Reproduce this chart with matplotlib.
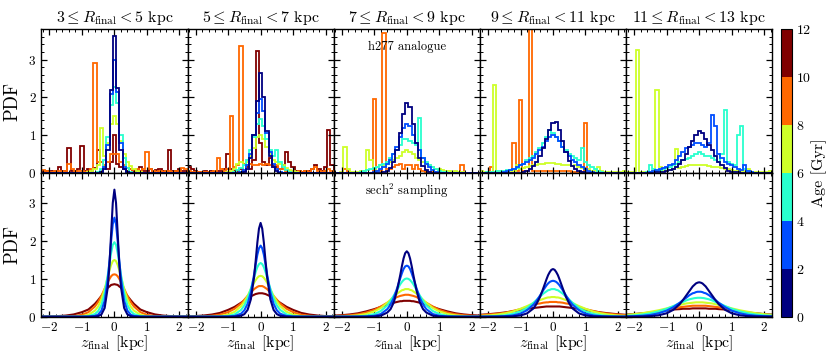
import numpy as np
import matplotlib.pyplot as plt
from matplotlib.colors import BoundaryNorm
from matplotlib.cm import ScalarMappable
from matplotlib.ticker import MultipleLocator

plt.rcParams['font.family'] = 'serif'
plt.rcParams['font.serif'] = ['cmr10', 'DejaVu Serif']
plt.rcParams['mathtext.fontset'] = 'cm'
plt.rcParams['axes.formatter.use_mathtext'] = True

#### radial bins and age bins ####
r_bins = [(3, 5), (5, 7), (7, 9), (9, 11), (11, 13)]
age_edges = [0, 2, 4, 6, 8, 10, 12]

#### top row: h277 histograms, bin centres -2.2 ... 2.2 (0.1 kpc) ####
z_edges_top = np.linspace(-2.25, 2.25, 46)

# order of each panel list: 0-2, 2-4, 4-6, 6-8, 8-10, 10-12 Gyr
top_r3 = [
    [0]*15 + [0, 0, 0, 0.02, 0.1, 0.6, 2.2, 3.62, 2.25, 0.6, 0.1, 0.02, 0, 0, 0] + [0]*15,
    [0]*15 + [0, 0, 0, 0.03, 0.15, 0.75, 2.1, 3.0, 2.15, 0.8, 0.15, 0.03, 0, 0, 0] + [0]*15,
    [0]*15 + [0, 0, 0.03, 0.1, 0.35, 0.95, 1.8, 2.28, 1.85, 1.0, 0.4, 0.12, 0.04, 0, 0] + [0]*15,
    [0, 0, 0, 0, 0, 0, 0, 0, 0, 0, 0, 0, 0, 0, 0.03,
     0.06, 0.1, 0.2, 1.18, 0.45, 0.8, 1.3, 1.52, 1.3, 0.85, 0.5, 0.3, 0.18, 0.1, 0.06,
     0.03, 0, 0, 0, 0, 0, 0, 0, 0, 0, 0, 0, 0, 0, 0],
    [0.08, 0.05, 0.03, 0.03, 0.05, 0.05, 0.03, 0.05, 0.25, 0.1, 0.03, 0.05, 0.05, 0.03, 0.05,
     0.1, 2.9, 0.3, 0.3, 0.2, 0.3, 0.5, 0.5, 0.5, 0.3, 0.2, 0.12, 0.1, 0.08, 0.1,
     0.05, 0.1, 0.55, 0.1, 0.05, 0.03, 0.05, 0.03, 0.05, 0.05, 0.03, 0.05, 0.05, 0.12, 0.1],
    [0.05, 0.05, 0.03, 0.05, 0.05, 0.15, 0.05, 0.05, 0.65, 0.05, 0.05, 0.1, 0.72, 0.05, 0.1,
     0.05, 0.12, 0.62, 0.3, 0.15, 0.1, 0.3, 1.0, 0.25, 0.15, 0.1, 0.05, 0.1, 0.05, 0.08,
     0.15, 0.05, 0.05, 0.1, 0.05, 0.08, 0.1, 0.05, 0.05, 0.62, 0.05, 0.05, 0.1, 0.05, 0.05],
]

top_r5 = [
    [0]*15 + [0, 0, 0.03, 0.1, 0.4, 1.0, 1.9, 2.64, 2.0, 1.1, 0.45, 0.15, 0.05, 0, 0] + [0]*15,
    [0]*15 + [0, 0.03, 0.08, 0.2, 0.5, 1.0, 1.6, 1.95, 1.65, 1.05, 0.55, 0.25, 0.1, 0.04, 0] + [0]*15,
    [0, 0, 0, 0, 0, 0, 0, 0, 0, 0, 0, 0, 0, 0, 0.04,
     0.08, 0.12, 0.2, 0.35, 0.6, 0.95, 1.3, 1.42, 1.25, 0.9, 0.6, 0.45, 0.62, 0.3, 0.15,
     0.08, 0.04, 0, 0, 0, 0, 0, 0, 0, 0, 0, 0, 0, 0, 0],
    [0, 0, 0, 0, 0, 0, 0, 0, 0, 0, 0, 0, 0.03, 0.05, 0.1,
     0.25, 0.3, 0.2, 0.3, 0.45, 0.65, 0.95, 1.01, 0.9, 0.7, 0.5, 0.35, 0.3, 0.25, 0.2,
     0.12, 0.08, 0.05, 0.03, 0, 0, 0, 0, 0, 0, 0, 0, 0, 0, 0],
    [0.05, 0.02, 0.02, 0.02, 0.03, 0.03, 0.02, 0.03, 0.05, 0.4, 0.1, 0.05, 0.1, 1.52, 0.15,
     0.2, 3.35, 0.25, 0.2, 0.25, 0.2, 0.2, 0.25, 0.2, 0.25, 0.2, 0.15, 0.2, 0.1, 0.1,
     0.05, 0.05, 0.03, 0.03, 0.05, 0.03, 0.05, 0.03, 0.1, 0.15, 0.05, 0.03, 0.05, 0.1, 0.05],
    [0.15, 0.1, 0.05, 0.03, 0.03, 0.05, 0.03, 0.05, 0.03, 0.05, 0.05, 0.1, 0.5, 0.1, 0.05,
     0.05, 0.1, 0.05, 0.15, 0.1, 0.35, 3.24, 0.8, 0.3, 0.2, 0.4, 0.2, 0.15, 0.1, 0.2,
     0.55, 0.3, 0.15, 0.05, 0.05, 0.03, 0.05, 0.05, 0.1, 0.2, 0.1, 0.05, 0.15, 1.14, 0.2],
]

top_r7 = [
    [0]*15 + [0.02, 0.05, 0.12, 0.3, 0.6, 1.05, 1.55, 1.84, 1.75, 1.3, 0.8, 0.4, 0.18, 0.07, 0.03] + [0]*15,
    [0, 0, 0, 0, 0, 0, 0, 0, 0, 0, 0, 0, 0.03, 0.05, 0.1,
     0.15, 0.25, 0.35, 0.5, 0.7, 0.95, 1.2, 1.3, 1.25, 1.0, 0.8, 0.6, 0.4, 0.25, 0.15,
     0.08, 0.04, 0, 0, 0, 0, 0, 0, 0, 0, 0, 0, 0, 0, 0],
    [0, 0, 0, 0, 0, 0, 0, 0, 0.03, 0.05, 0.08, 0.1, 0.13, 0.15, 0.2,
     0.25, 0.3, 0.4, 0.5, 0.6, 0.75, 0.9, 0.9, 0.85, 0.8, 0.75, 1.45, 0.4, 0.3, 0.2,
     0.15, 0.1, 0.05, 0.04, 0.03, 0, 0, 0, 0, 0, 0, 0, 0, 0, 0],
    [0, 0, 0.03, 0.7, 0.1, 0.03, 0.02, 0.03, 0.05, 0.05, 0.6, 0.35, 0.1, 0.15, 0.2,
     0.22, 0.25, 0.3, 0.35, 0.4, 0.45, 0.55, 0.6, 0.55, 0.5, 0.4, 0.35, 0.3, 0.25, 0.2,
     0.15, 0.1, 0.1, 0.07, 0.05, 0.05, 0.03, 0.05, 0.03, 0.02, 0, 0, 0, 0, 0],
    [0, 0, 0, 0.1, 0.03, 0, 0, 0, 0, 0, 0, 0, 1.97, 0.05, 0.05,
     3.7, 0.1, 0.1, 0.15, 0.2, 0.25, 0.1, 0.2, 0.2, 0.1, 0.2, 0.1, 0.05, 0.03, 0.03,
     0.02, 0.02, 0, 0, 0, 0, 0, 0, 0, 0.2, 0, 0, 0, 0, 0],
    None,
]

top_r9 = [
    [0, 0, 0, 0, 0, 0, 0, 0, 0, 0, 0, 0, 0, 0.02, 0.05,
     0.1, 0.18, 0.3, 0.45, 0.65, 0.9, 1.15, 1.32, 1.36, 1.15, 0.85, 0.55, 0.32, 0.18, 0.1,
     0.06, 0.03, 0, 0, 0, 0, 0, 0, 0, 0, 0, 0, 0, 0, 0],
    [0, 0, 0, 0, 0, 0, 0, 0.03, 0.05, 0.08, 0.1, 0.15, 0.2, 0.25, 0.3,
     0.35, 0.4, 0.5, 0.6, 0.7, 0.85, 0.95, 1.0, 0.95, 0.85, 0.7, 0.55, 0.45, 0.35, 0.3,
     0.2, 0.15, 0.1, 0.05, 0.03, 0, 0, 0, 0, 0, 0, 0, 0, 0, 0],
    [0, 0, 0.03, 0.03, 0.03, 0.05, 0.05, 0.05, 0.08, 0.08, 0.1, 0.12, 0.2, 0.25, 0.35,
     0.4, 0.45, 0.55, 0.65, 0.8, 0.95, 1.15, 1.05, 0.95, 0.85, 0.7, 0.6, 0.5, 0.45, 0.4,
     0.35, 0.65, 0.3, 0.2, 0.15, 0.1, 0.05, 0.03, 0, 0, 0, 0, 0, 0, 0],
    [0.05, 0.02, 0.02, 0.02, 2.34, 0.02, 0.02, 0.03, 0.03, 0.05, 0.05, 0.2, 0.1, 0.12, 0.15,
     0.18, 0.2, 0.22, 0.25, 0.25, 0.27, 0.27, 0.27, 0.25, 0.25, 0.22, 0.2, 0.2, 0.18, 0.2,
     0.15, 0.12, 0.1, 0.1, 0.05, 0.05, 0.15, 0.05, 0.03, 0.03, 0.02, 0.02, 0.02, 0.02, 0.05],
    [0, 0, 0, 0.15, 0, 0, 0, 0, 0, 0, 0.8, 0.05, 1.93, 0.05, 0.05,
     4.0, 0.05, 0.05, 0.05, 0.05, 0.05, 0.05, 0.05, 0.05, 0.05, 0.05, 0.05, 0.05, 0.03, 0.03,
     0.03, 0.03, 1.32, 0.03, 0.02, 0, 0, 0, 0, 0, 0, 0, 0, 0, 0],
    None,
]

top_r11 = [
    [0, 0, 0, 0, 0, 0, 0, 0, 0, 0.02, 0.03, 0.04, 0.05, 0.07, 0.1,
     0.15, 0.25, 0.35, 0.5, 0.7, 0.85, 1.0, 1.1, 1.05, 0.9, 0.75, 0.6, 0.45, 0.3, 0.2,
     0.12, 0.06, 0.03, 0.02, 0.02, 0.01, 0, 0, 0, 0, 0, 0, 0, 0, 0],
    [0, 0, 0, 0, 0, 0, 0, 0.03, 0.05, 0.08, 0.1, 0.12, 0.15, 0.2, 0.25,
     0.35, 0.45, 0.55, 0.65, 0.7, 0.75, 0.8, 0.8, 0.75, 0.7, 0.8, 1.54, 1.25, 0.5, 0.4,
     0.3, 0.25, 0.2, 0.15, 0.1, 0.08, 0.2, 0.05, 0.02, 0, 0, 0, 0, 0, 0],
    [0, 0, 0, 0, 0, 0, 0.03, 0.2, 0.1, 0.05, 0.08, 0.1, 0.12, 0.15, 0.2,
     0.25, 0.3, 0.35, 0.38, 0.4, 0.45, 0.5, 0.55, 0.5, 0.45, 0.45, 0.4, 0.35, 0.3, 0.5,
     1.67, 0.3, 0.25, 0.2, 1.0, 1.25, 0.1, 0.05, 0.03, 0, 0, 0, 0, 0, 0],
    [0.02, 0.02, 0.02, 3.25, 0.02, 0.02, 0.02, 0.03, 0.05, 2.19, 0.15, 0.05, 0.05, 0.08, 0.1,
     0.64, 0.12, 0.15, 0.18, 0.2, 0.2, 0.2, 0.2, 0.2, 0.2, 0.18, 0.17, 0.15, 0.15, 0.12,
     0.1, 0.1, 0.08, 0.05, 0.05, 0.05, 0.05, 0.1, 0.03, 0.02, 0.02, 0.02, 0.02, 0.02, 0.05],
    None,
    None,
]

#### bottom row: sech^2 sampling, symmetric, given for z >= 0 ####
z_half = [0, 0.05, 0.1, 0.15, 0.2, 0.3, 0.4, 0.5, 0.6, 0.8, 1.0, 1.25, 1.5, 1.75, 2.0, 2.25]

bot_r3 = [
    [3.36, 3.01, 2.21, 1.39, 0.80, 0.23, 0.06, 0.016, 0.004, 0, 0, 0, 0, 0, 0, 0],
    [2.62, 2.45, 2.01, 1.49, 1.02, 0.42, 0.16, 0.055, 0.02, 0.003, 0, 0, 0, 0, 0, 0],
    [1.97, 1.90, 1.69, 1.42, 1.12, 0.62, 0.31, 0.15, 0.07, 0.014, 0.003, 0, 0, 0, 0, 0],
    [1.50, 1.47, 1.37, 1.23, 1.07, 0.73, 0.46, 0.27, 0.16, 0.05, 0.015, 0.003, 0.001, 0, 0, 0],
    [1.12, 1.11, 1.07, 1.00, 0.92, 0.74, 0.55, 0.39, 0.27, 0.12, 0.05, 0.016, 0.005, 0.002, 0.001, 0],
    [0.86, 0.85, 0.84, 0.80, 0.77, 0.67, 0.55, 0.44, 0.34, 0.19, 0.12, 0.06, 0.03, 0.015, 0.007, 0.004],
]
bot_r5 = [
    [2.48, 2.33, 1.96, 1.49, 1.05, 0.46, 0.18, 0.068, 0.026, 0.003, 0, 0, 0, 0, 0, 0],
    [1.88, 1.81, 1.64, 1.39, 1.12, 0.64, 0.34, 0.17, 0.08, 0.018, 0.004, 0.001, 0, 0, 0, 0],
    [1.42, 1.39, 1.31, 1.19, 1.04, 0.74, 0.48, 0.30, 0.18, 0.06, 0.019, 0.005, 0.001, 0, 0, 0],
    [1.08, 1.07, 1.03, 0.97, 0.90, 0.73, 0.55, 0.40, 0.28, 0.13, 0.056, 0.019, 0.007, 0.002, 0.001, 0],
    [0.81, 0.81, 0.79, 0.76, 0.73, 0.64, 0.55, 0.45, 0.35, 0.21, 0.12, 0.054, 0.025, 0.011, 0.005, 0.002],
    [0.62, 0.62, 0.61, 0.60, 0.58, 0.54, 0.49, 0.43, 0.37, 0.26, 0.18, 0.10, 0.057, 0.032, 0.017, 0.009],
]
bot_r7 = [
    [1.73, 1.68, 1.54, 1.34, 1.11, 0.69, 0.38, 0.20, 0.11, 0.027, 0.007, 0.001, 0, 0, 0, 0],
    [1.35, 1.33, 1.26, 1.15, 1.02, 0.75, 0.50, 0.32, 0.20, 0.07, 0.024, 0.006, 0.002, 0, 0, 0],
    [1.01, 1.00, 0.97, 0.92, 0.86, 0.71, 0.56, 0.42, 0.30, 0.15, 0.069, 0.025, 0.009, 0.003, 0.001, 0],
    [0.73, 0.73, 0.71, 0.70, 0.67, 0.61, 0.53, 0.45, 0.37, 0.23, 0.14, 0.072, 0.036, 0.018, 0.008, 0.004],
    [0.58, 0.58, 0.57, 0.56, 0.55, 0.52, 0.47, 0.42, 0.37, 0.27, 0.18, 0.11, 0.065, 0.04, 0.025, 0.015],
    [0.42, 0.42, 0.42, 0.41, 0.41, 0.39, 0.37, 0.35, 0.32, 0.26, 0.20, 0.14, 0.09, 0.06, 0.04, 0.03],
]
bot_r9 = [
    [1.26, 1.24, 1.18, 1.10, 0.99, 0.75, 0.52, 0.35, 0.22, 0.087, 0.033, 0.009, 0.003, 0.001, 0, 0],
    [0.95, 0.94, 0.92, 0.88, 0.83, 0.70, 0.56, 0.43, 0.32, 0.17, 0.082, 0.032, 0.013, 0.005, 0.002, 0.001],
    [0.73, 0.73, 0.71, 0.70, 0.67, 0.61, 0.53, 0.45, 0.37, 0.23, 0.14, 0.072, 0.036, 0.018, 0.008, 0.004],
    [0.52, 0.52, 0.51, 0.51, 0.50, 0.47, 0.44, 0.40, 0.36, 0.28, 0.21, 0.13, 0.084, 0.052, 0.032, 0.019],
    [0.39, 0.39, 0.39, 0.38, 0.38, 0.37, 0.35, 0.34, 0.32, 0.26, 0.20, 0.15, 0.10, 0.075, 0.055, 0.04],
    [0.27, 0.27, 0.27, 0.27, 0.27, 0.26, 0.25, 0.24, 0.23, 0.21, 0.18, 0.14, 0.11, 0.085, 0.065, 0.05],
]
bot_r11 = [
    [0.91, 0.90, 0.88, 0.84, 0.80, 0.68, 0.56, 0.44, 0.33, 0.18, 0.091, 0.037, 0.015, 0.006, 0.002, 0.001],
    [0.66, 0.66, 0.65, 0.63, 0.62, 0.57, 0.50, 0.44, 0.37, 0.25, 0.16, 0.09, 0.048, 0.026, 0.014, 0.007],
    [0.50, 0.50, 0.495, 0.49, 0.48, 0.46, 0.43, 0.39, 0.36, 0.28, 0.21, 0.14, 0.09, 0.057, 0.035, 0.022],
    [0.38, 0.38, 0.38, 0.375, 0.37, 0.36, 0.35, 0.33, 0.31, 0.27, 0.22, 0.17, 0.13, 0.093, 0.066, 0.047],
    [0.29, 0.29, 0.29, 0.29, 0.29, 0.28, 0.27, 0.26, 0.25, 0.22, 0.18, 0.14, 0.10, 0.075, 0.055, 0.04],
    [0.22, 0.22, 0.22, 0.22, 0.22, 0.21, 0.21, 0.21, 0.20, 0.19, 0.17, 0.14, 0.11, 0.09, 0.07, 0.055],
]

top_rows = [top_r3, top_r5, top_r7, top_r9, top_r11]
bot_rows = [bot_r3, bot_r5, bot_r7, bot_r9, bot_r11]

cmap = plt.get_cmap('jet', 6)
norm = BoundaryNorm(age_edges, cmap.N)
colors = [cmap(i) for i in range(6)]

zh = np.array(z_half)
z_full = np.concatenate([-zh[::-1], zh[1:]])

fig = plt.figure(figsize=(8.3, 3.56), dpi=100)

left, pw = 41.3/830, 146.2/830
bottom, ph = 0.1104, 0.4036

def style(ax, col, row):
    ax.set_xlim(-2.25, 2.25)
    ax.set_ylim(0, 3.8)
    ax.xaxis.set_major_locator(MultipleLocator(1))
    ax.xaxis.set_minor_locator(MultipleLocator(0.2))
    ax.yaxis.set_major_locator(MultipleLocator(1))
    ax.yaxis.set_minor_locator(MultipleLocator(0.2))
    ax.tick_params(which='both', direction='in', top=True, right=True, labelsize=9.5)
    ax.tick_params(which='major', length=4, width=0.9)
    ax.tick_params(which='minor', length=2, width=0.7)
    ax.tick_params(axis='x', pad=3)
    for s in ax.spines.values():
        s.set_linewidth(1.0)
    if col > 0:
        ax.tick_params(labelleft=False)
    else:
        ax.set_ylabel('PDF', fontsize=13.5, labelpad=5)
    if row == 0:
        ax.tick_params(labelbottom=False)
    else:
        ax.set_xlabel(r'$z_{\rm final}$ [kpc]', fontsize=11.5, labelpad=0)

for j in range(5):
    ax_t = fig.add_axes([left + j*pw, bottom + ph, pw, ph])
    ax_b = fig.add_axes([left + j*pw, bottom, pw, ph])

    # oldest first so the young populations sit on top
    for k in range(5, -1, -1):
        vals = top_rows[j][k]
        if vals is not None:
            ax_t.stairs(vals, z_edges_top, color=colors[k], lw=1.3)
        half = np.array(bot_rows[j][k])
        ax_b.plot(z_full, np.concatenate([half[::-1], half[1:]]), color=colors[k], lw=1.5)

    style(ax_t, j, 0)
    style(ax_b, j, 1)
    r0, r1 = r_bins[j]
    ax_t.set_title(r'$%d \leq R_{\rm final} < %d$ kpc' % (r0, r1), fontsize=11.5, pad=5)

    if j == 2:
        ax_t.text(0, 3.33, 'h277 analogue', ha='center', va='center', fontsize=9)
        ax_b.text(0, 3.33, r'sech$^2$ sampling', ha='center', va='center', fontsize=9)

cax = fig.add_axes([780.7/830, bottom, 11/830, 2*ph])
cb = fig.colorbar(ScalarMappable(norm=norm, cmap=cmap), cax=cax, ticks=age_edges)
cb.ax.tick_params(labelsize=10, length=0, pad=3)
cb.outline.set_linewidth(0.8)
cb.set_label('Age [Gyr]', fontsize=11.5, labelpad=0)

plt.savefig('out.png', dpi=100)
